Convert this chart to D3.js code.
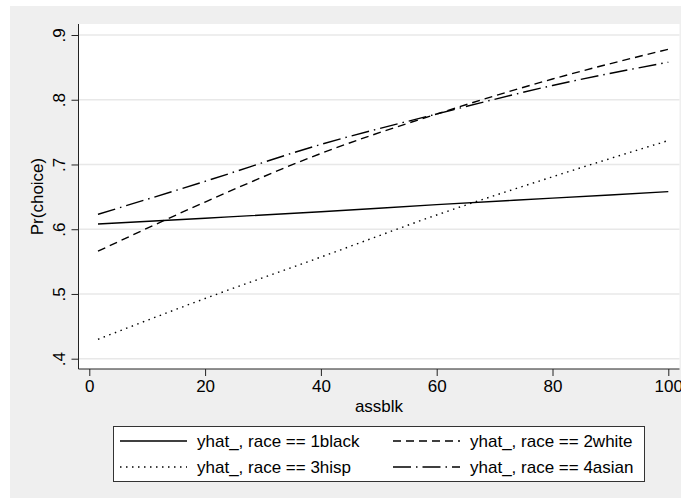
<!DOCTYPE html>
<head>
<meta charset="utf-8">
<title>Pr(choice) by assblk</title>
<style>
  body { margin: 0; background: #fff; }
  text { font-family: "Liberation Sans", Arial, Helvetica, sans-serif; fill: #000; }
</style>
</head>
<body>
<script src="https://d3js.org/d3.v7.min.js"></script>
<script>
let assblk = [1.5, 20, 40, 60, 80, 100];

// predicted Pr(choice) per race
let black = [0.608, 0.617, 0.627, 0.638, 0.648, 0.658];
let white = [0.566, 0.642, 0.717, 0.778, 0.832, 0.878];
let hisp  = [0.430, 0.493, 0.557, 0.622, 0.681, 0.737];
let asian = [0.623, 0.674, 0.731, 0.778, 0.822, 0.858];

let seriesNames = ["yhat_, race == 1black", "yhat_, race == 2white",
                   "yhat_, race == 3hisp", "yhat_, race == 4asian"];

let xTicks = [0, 20, 40, 60, 80, 100];
let yTicks = [0.4, 0.5, 0.6, 0.7, 0.8, 0.9];

let width = 681, height = 498;

let svg = d3.select("body").append("svg")
    .attr("width", width)
    .attr("height", height);

// outer gray graph region
svg.append("rect")
    .attr("x", 10).attr("y", 6)
    .attr("width", width - 10).attr("height", height - 6)
    .attr("fill", "#efefef");

let plot = {left: 78.5, right: 679.5, top: 24, bottom: 369};

svg.append("rect")
    .attr("x", plot.left).attr("y", plot.top)
    .attr("width", plot.right - plot.left).attr("height", plot.bottom - plot.top)
    .attr("fill", "#fff");

let x = d3.scaleLinear().domain([0, 100]).range([89.3, 668.3]);
let y = d3.scaleLinear().domain([0.4, 0.9]).range([358.7, 35]);

// grid lines
svg.selectAll(".grid")
    .data(yTicks)
    .join("line")
    .attr("class", "grid")
    .attr("x1", plot.left).attr("x2", plot.right)
    .attr("y1", d => y(d)).attr("y2", d => y(d))
    .attr("stroke", "#e8e8e8")
    .attr("stroke-width", 1.5);

// y axis
let yAxis = svg.append("g")
    .attr("transform", `translate(${plot.left},0)`)
    .call(d3.axisLeft(y).tickValues(yTicks).tickSize(7)
        .tickFormat(d => d3.format(".1f")(d).replace(/^0/, "")));
yAxis.select(".domain").attr("d", `M0,${plot.top}V${plot.bottom}`).attr("stroke", "#222");
yAxis.selectAll(".tick line").attr("stroke", "#222");
yAxis.selectAll(".tick text")
    .attr("transform", "rotate(-90)")
    .attr("x", 0).attr("y", -14).attr("dy", 0)
    .attr("text-anchor", "middle")
    .style("font-size", "17px");

// x axis
let xAxis = svg.append("g")
    .attr("transform", `translate(0,${plot.bottom})`)
    .call(d3.axisBottom(x).tickValues(xTicks).tickSize(7));
xAxis.select(".domain").attr("d", `M${plot.left},0H${plot.right}`).attr("stroke", "#222");
xAxis.selectAll(".tick line").attr("stroke", "#222");
xAxis.selectAll(".tick text")
    .attr("y", 23).attr("dy", 0)
    .style("font-size", "17px");

// axis titles
svg.append("text")
    .attr("x", (plot.left + plot.right) / 2).attr("y", 412)
    .attr("text-anchor", "middle")
    .style("font-size", "17px")
    .text("assblk");

svg.append("text")
    .attr("transform", `translate(43,${(plot.top + plot.bottom) / 2}) rotate(-90)`)
    .attr("text-anchor", "middle")
    .style("font-size", "17px")
    .text("Pr(choice)");

// lines
let dashes = ["none", "8,5", "1.5,4.5", "18,5,1.5,5"];
let allSeries = [black, white, hisp, asian];

let line = d3.line()
    .x((d, i) => x(assblk[i]))
    .y(d => y(d))
    .curve(d3.curveMonotoneX);

svg.selectAll(".series")
    .data(allSeries)
    .join("path")
    .attr("class", "series")
    .attr("d", line)
    .attr("fill", "none")
    .attr("stroke", "#000")
    .attr("stroke-width", 1.4)
    .attr("stroke-dasharray", (d, i) => dashes[i]);

// legend
let legend = svg.append("g");
legend.append("rect")
    .attr("x", 113.5).attr("y", 426.5)
    .attr("width", 531).attr("height", 55)
    .attr("fill", "#fff")
    .attr("stroke", "#333");

seriesNames.forEach(function (name, i) {
    let col = i % 2, row = Math.floor(i / 2);
    let lx = 120 + col * 273;
    let ly = 441 + row * 26;
    legend.append("line")
        .attr("x1", lx).attr("x2", lx + 67)
        .attr("y1", ly).attr("y2", ly)
        .attr("stroke", "#000")
        .attr("stroke-width", 1.4)
        .attr("stroke-dasharray", dashes[i]);
    legend.append("text")
        .attr("x", lx + 77).attr("y", ly + 6)
        .style("font-size", "17px")
        .text(name);
});
</script>
</body>
